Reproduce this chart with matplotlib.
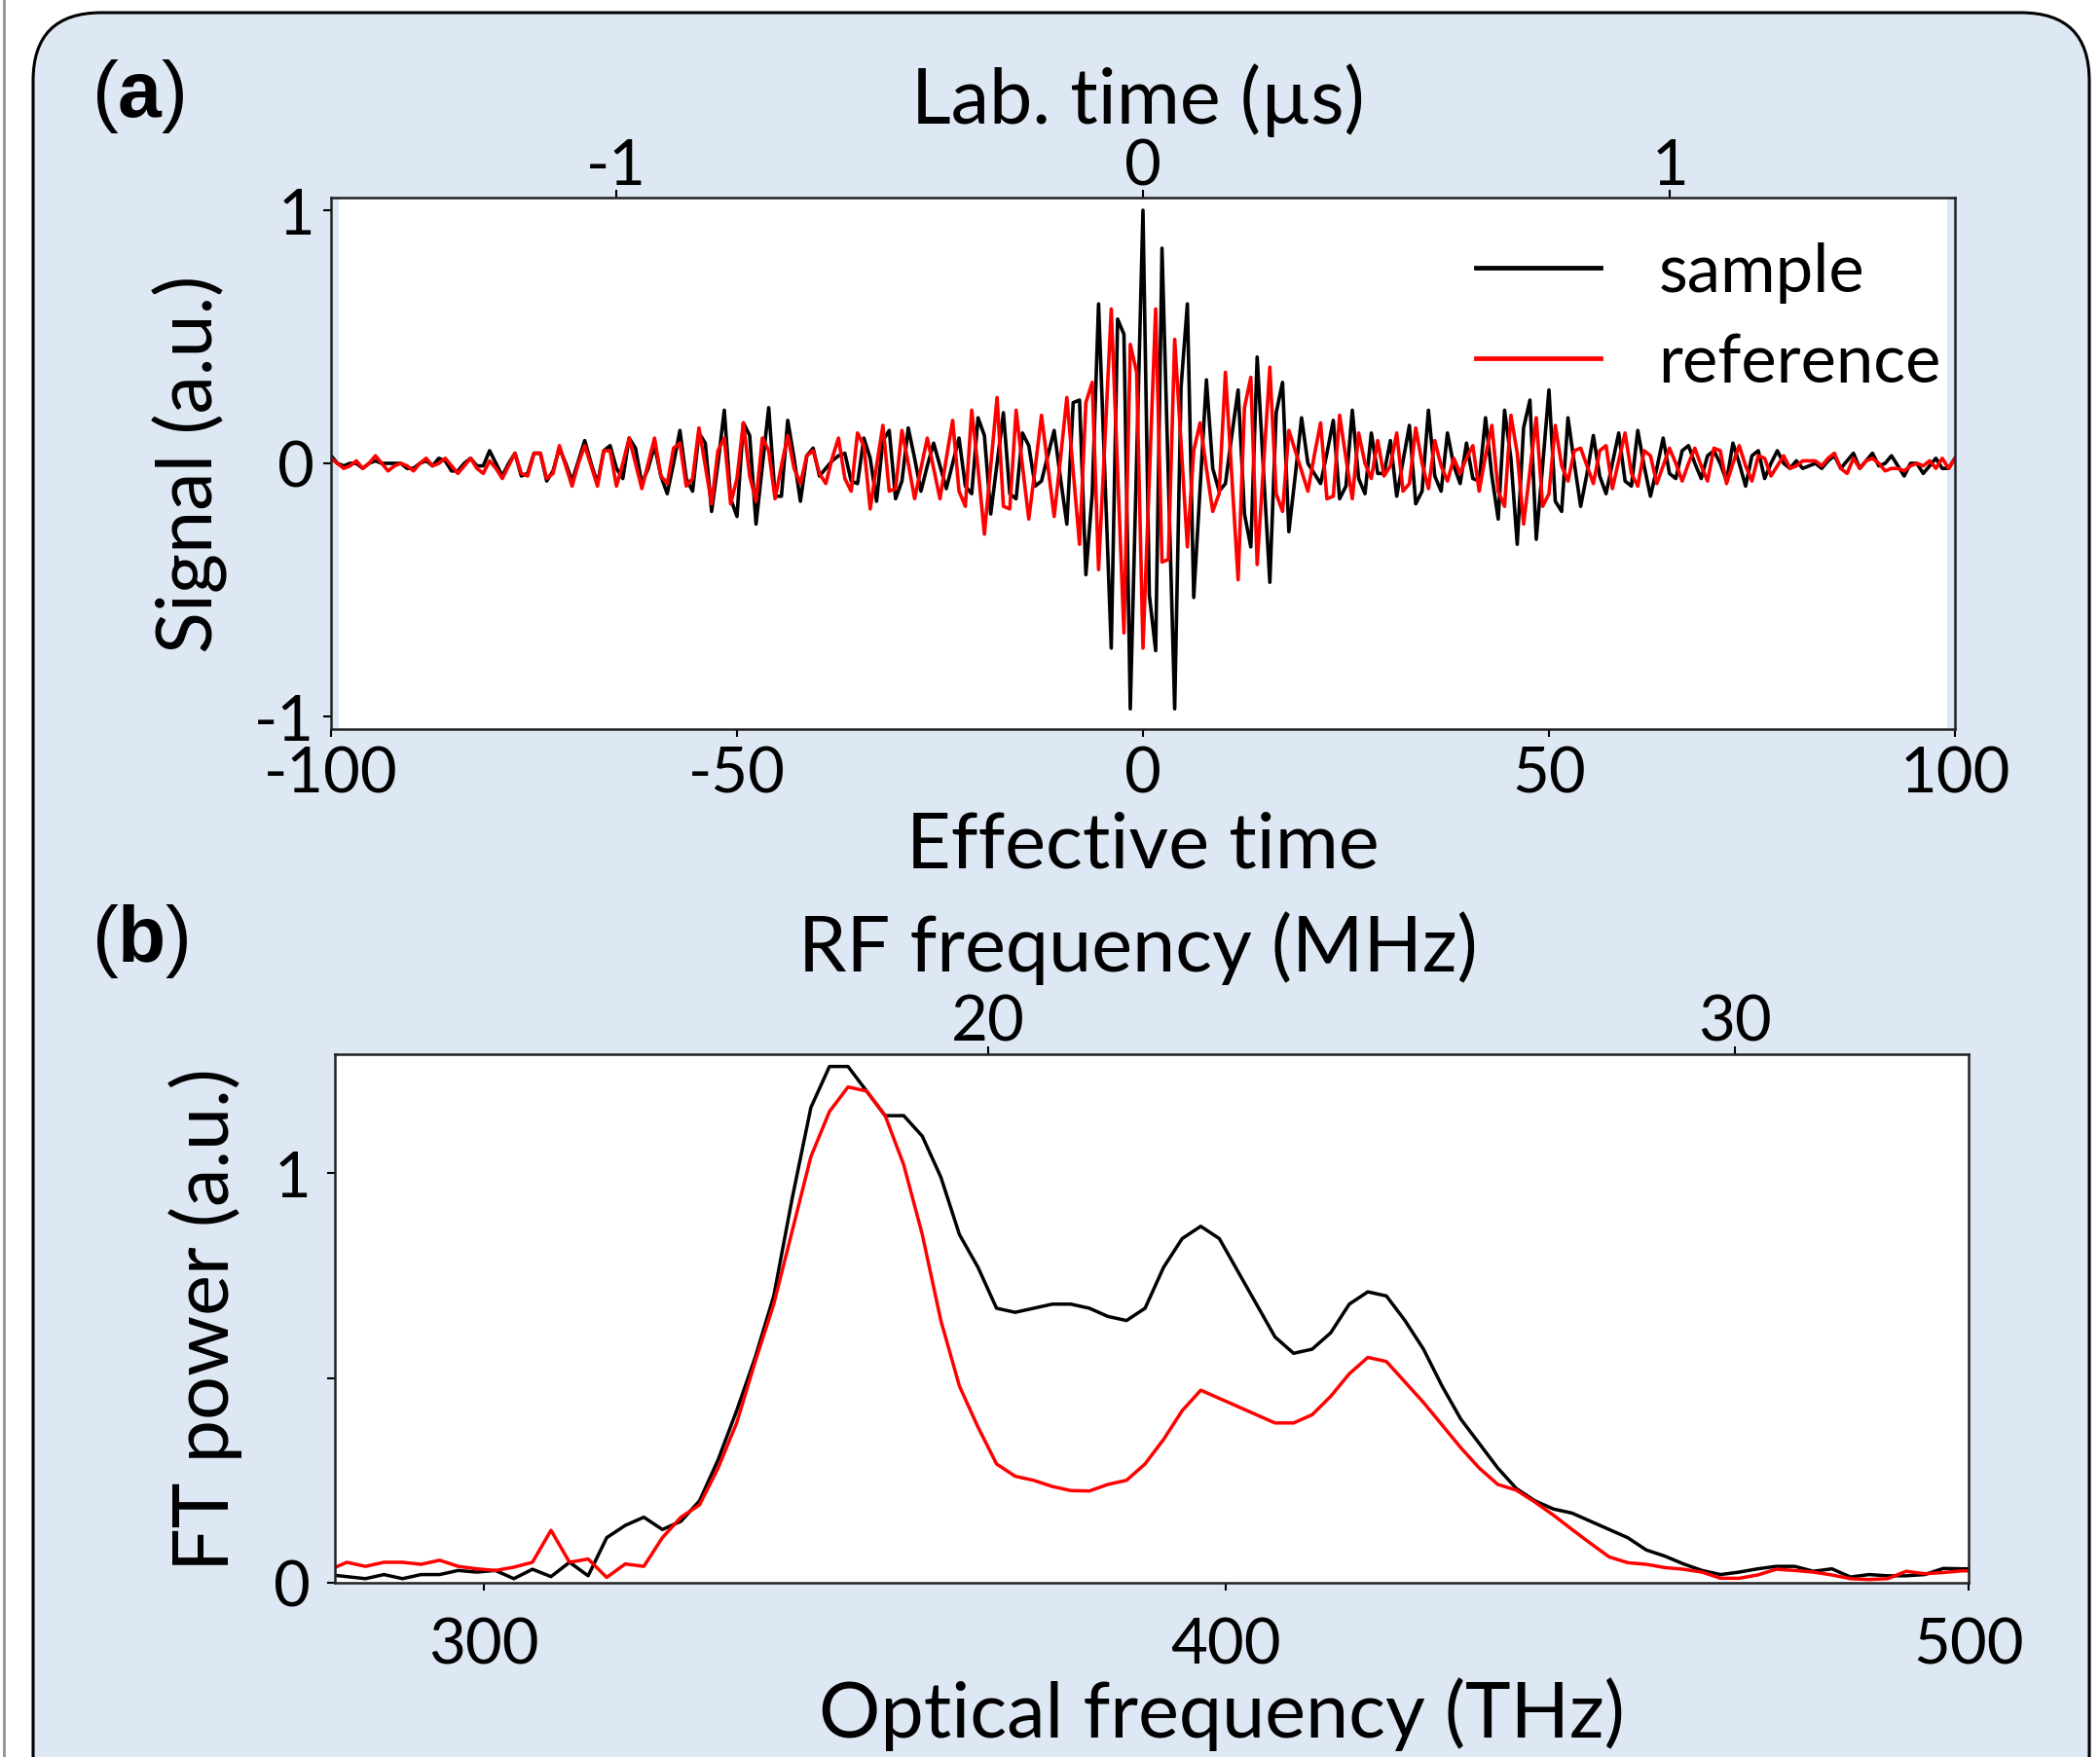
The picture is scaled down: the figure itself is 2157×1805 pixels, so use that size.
import numpy as np
import matplotlib
matplotlib.use("Agg")
import matplotlib.pyplot as plt
from matplotlib.patches import FancyBboxPatch
from matplotlib.transforms import IdentityTransform

plt.rcParams['font.family'] = ['Lato', 'DejaVu Sans']
plt.rcParams['axes.unicode_minus'] = False
plt.rcParams['mathtext.fontset'] = 'custom'
plt.rcParams['mathtext.rm'] = 'Liberation Sans'
plt.rcParams['mathtext.bf'] = 'Liberation Sans:bold'

# ---- panel (a): interferograms, 257 samples from -100 to 100 (effective time)
t_start, t_stop, n_t = -100, 100, 257
sample_sig = [
    0.03, 0.0, -0.01, 0.0, 0.0, -0.02, 0.0, 0.01, 0.0, 0.0,
    0.0, 0.0, -0.02, -0.02, 0.0, 0.01, -0.01, 0.02, 0.01, -0.03,
    -0.03, 0.0, 0.02, -0.01, -0.01, 0.05, 0.0, -0.05, 0.0, 0.04,
    -0.05, -0.04, 0.04, 0.04, -0.07, -0.03, 0.06, 0.0, -0.07, 0.01,
    0.09, 0.0, -0.08, 0.05, 0.07, -0.02, -0.06, 0.10, 0.06, -0.08,
    -0.02,
    0.07, -0.05, -0.12, 0.0, 0.13, -0.06, -0.11, 0.12, 0.08, -0.19,
    0.0, 0.21, -0.14, -0.21, 0.16, 0.11, -0.24, -0.01, 0.22, -0.13,
    -0.13, 0.17, 0.02, -0.15, 0.03, 0.06, -0.05, -0.02, 0.01, 0.03,
    0.04, -0.07, -0.08, 0.10, 0.02, -0.15, 0.09, 0.13, -0.14, -0.07,
    0.14, 0.02, -0.11, -0.01, 0.08, -0.01, -0.10, 0.0, 0.10, -0.09,
    -0.12,
    0.18, 0.11, -0.20, 0.0, 0.20, -0.12, -0.14, 0.12, 0.07, -0.09,
    -0.07, 0.03, 0.13, -0.06, -0.24, 0.24, 0.25, -0.44, -0.12, 0.63,
    -0.05, -0.73, 0.57, 0.51, -0.97, 0.01, 1.0, -0.52, -0.74, 0.85,
    -0.06, -0.97, 0.30, 0.63, -0.53, -0.10, 0.33, -0.02, -0.11, -0.08,
    0.11, 0.29, -0.20, -0.33, 0.42, -0.03, -0.47, 0.20, 0.32, -0.27,
    -0.05, 0.18,
    0.0, -0.04, -0.08, 0.04, 0.17, -0.14, -0.09, 0.21, -0.06, -0.12,
    0.12, -0.04, -0.04, 0.09, -0.13, 0.01, 0.15, -0.16, -0.11, 0.21,
    -0.05, -0.11, 0.12, -0.01, -0.08, 0.08, -0.06, -0.07, 0.18, -0.05,
    -0.22, 0.21, 0.02, -0.32, 0.14, 0.25, -0.30, -0.01, 0.29, -0.15,
    -0.19, 0.18, 0.0, -0.17, -0.04, 0.11, -0.05, -0.12, 0.0, 0.12,
    -0.07, -0.09, 0.13,
    -0.01, -0.13, -0.02, 0.10, -0.04, -0.06, 0.05, 0.07, 0.0, -0.06,
    0.03, 0.05, 0.0, -0.07, 0.08, 0.0, -0.09, 0.03, 0.05, -0.06,
    0.0, 0.05, 0.0, -0.02, 0.01, -0.02, -0.01, 0.0, -0.02, 0.01,
    0.03, -0.02, 0.01, 0.04, -0.02, 0.01, 0.04, -0.01, 0.0, 0.03,
    -0.01, -0.05, 0.0, 0.0, -0.04, -0.01, 0.02, -0.02, -0.02, 0.02,
]
reference_sig = [
    0.02, 0.0, -0.02, -0.01, 0.01, -0.02, 0.0, 0.03, 0.0, -0.03,
    -0.01, 0.0, -0.01, -0.03, 0.0, 0.02, -0.01, 0.0, 0.02, -0.01,
    -0.04, -0.01, 0.02, -0.02, -0.04, 0.01, -0.02, -0.06, -0.01, 0.04,
    -0.04, -0.05, 0.04, 0.04, -0.06, -0.04, 0.07, -0.01, -0.09, 0.0,
    0.07, -0.01, -0.09, 0.05, 0.05, -0.09, 0.0, 0.10, 0.0, -0.10,
    0.0,
    0.10, -0.05, -0.08, 0.06, 0.08, -0.09, -0.06, 0.14, -0.01, -0.16,
    0.05, 0.10, -0.16, -0.06, 0.16, -0.05, -0.15, 0.10, 0.05, -0.14,
    -0.01, 0.11, -0.02, -0.08, 0.03, 0.05, -0.04, -0.08, 0.02, 0.10,
    -0.06, -0.11, 0.12, 0.07, -0.18, -0.01, 0.15, -0.11, -0.10, 0.13,
    0.0, -0.14, -0.02, 0.10, -0.02, -0.14, 0.02, 0.17, -0.11, -0.17,
    0.21,
    -0.02, -0.28, -0.01, 0.26, -0.17, -0.18, 0.21, -0.01, -0.22, -0.02,
    0.19, -0.01, -0.21, 0.02, 0.26, -0.03, -0.32, 0.24, 0.32, -0.42,
    0.09, 0.61, -0.03, -0.67, 0.47, 0.36, -0.73, -0.06, 0.61, -0.39,
    -0.38, 0.49, 0.08, -0.33, 0.05, 0.16, -0.02, -0.19, -0.12, 0.36,
    -0.05, -0.46, 0.22, 0.34, -0.40, -0.01, 0.38, -0.12, -0.19, 0.13,
    0.05, -0.03,
    -0.11, 0.03, 0.16, -0.14, -0.13, 0.19, 0.02, -0.14, 0.12, 0.0,
    -0.06, 0.09, -0.05, -0.01, 0.12, -0.11, -0.08, 0.14, 0.0, -0.10,
    0.09, -0.01, -0.07, 0.02, -0.04, 0.02, 0.07, -0.11, 0.03, 0.15,
    -0.11, -0.17, 0.19, 0.04, -0.24, -0.03, 0.18, -0.17, -0.12, 0.15,
    -0.01, -0.07, 0.05, 0.06, -0.01, -0.08, 0.05, 0.07, -0.10, 0.01,
    0.12, -0.04, -0.09,
    0.05, 0.03, -0.08, -0.01, 0.06, 0.0, -0.07, 0.0, 0.06, -0.01,
    -0.07, 0.06, 0.05, -0.08, 0.0, 0.07, -0.01, -0.07, 0.03, 0.02,
    -0.05, -0.01, 0.03, -0.02, -0.01, 0.01, 0.01, 0.01, -0.01, 0.02,
    0.04, -0.02, -0.04, 0.02, -0.02, 0.01, 0.02, 0.0, -0.03, -0.02,
    -0.02, -0.03, -0.01, 0.0, -0.01, 0.01, -0.02, 0.02, -0.02, 0.02,
]
series_names = ['sample', 'reference']
lab_ticks = [-1, 0, 1]
eff_per_us = 64.9  # effective time units per microsecond

# ---- panel (b): FT power spectra, 2.5 THz grid starting at 279.1 THz
f_start, f_step = 279.1, 2.5
sample_ft = [
    0.02, 0.015, 0.01, 0.02, 0.01, 0.02, 0.02, 0.03, 0.026, 0.03,
    0.01, 0.033, 0.015, 0.05, 0.017, 0.11, 0.14, 0.16, 0.13, 0.15,
    0.20, 0.30, 0.42, 0.55, 0.70, 0.94, 1.16, 1.26, 1.26, 1.20,
    1.14, 1.14, 1.09, 0.99, 0.85, 0.77, 0.67, 0.66, 0.67, 0.68,
    0.68, 0.67, 0.65, 0.64, 0.67, 0.77, 0.84, 0.87, 0.84, 0.76,
    0.68, 0.60, 0.56, 0.57, 0.61, 0.68, 0.71, 0.70, 0.64, 0.57,
    0.48, 0.40, 0.34, 0.28, 0.23, 0.20, 0.18, 0.17, 0.15, 0.13,
    0.11, 0.08, 0.065, 0.046, 0.03, 0.02, 0.026, 0.034, 0.04, 0.04,
    0.028, 0.034, 0.014, 0.02, 0.017, 0.017, 0.02, 0.035, 0.034, 0.034,
]
reference_ft = [
    0.03, 0.05, 0.04, 0.05, 0.05, 0.045, 0.055, 0.04, 0.034, 0.03,
    0.038, 0.05, 0.128, 0.05, 0.058, 0.013, 0.046, 0.04, 0.11, 0.16,
    0.19, 0.28, 0.39, 0.54, 0.68, 0.86, 1.04, 1.15, 1.21, 1.20,
    1.14, 1.02, 0.85, 0.64, 0.48, 0.38, 0.29, 0.26, 0.25, 0.235,
    0.225, 0.224, 0.24, 0.25, 0.29, 0.35, 0.42, 0.47, 0.45, 0.43,
    0.41, 0.39, 0.39, 0.41, 0.455, 0.51, 0.55, 0.54, 0.49, 0.44,
    0.385, 0.33, 0.28, 0.24, 0.226, 0.197, 0.165, 0.13, 0.096, 0.063,
    0.049, 0.045, 0.037, 0.033, 0.026, 0.011, 0.011, 0.019, 0.033, 0.03,
    0.026, 0.019, 0.01, 0.008, 0.01, 0.028, 0.022, 0.025, 0.029, 0.029,
]
opt_ticks = [300, 400, 500]
rf_ticks = [20, 30]
rf_offset, rf_slope = 166.9, 10.053  # optical = offset + slope * RF

bg = '#dde8f4'
W, H = 2157, 1806

fig = plt.figure(figsize=(W / 100, H / 100), dpi=100, facecolor='white')
box = FancyBboxPatch((34, -200), 2112, 1992, boxstyle='round,pad=0,rounding_size=70',
                     transform=IdentityTransform(), facecolor=bg, edgecolor='black',
                     linewidth=2.2, zorder=-10)
fig.patches.append(box)
fig.add_artist(plt.Line2D([4, 4], [0, H], transform=IdentityTransform(), color='#909090', lw=2))

tick_fs = 47
label_fs = 57


def style_axes(ax):
    for sp in ax.spines.values():
        sp.set_linewidth(1.8)
        sp.set_color('#222222')
    ax.tick_params(labelsize=tick_fs, length=6, width=1.5)


# panel (a)
ax1 = fig.add_axes([340 / W, 1 - 750 / H, 1668 / W, 546 / H])
t_eff = np.linspace(t_start, t_stop, n_t)
ax1.axvspan(-100, -99, color=bg, lw=0, zorder=0)
ax1.axvspan(99, 100, color=bg, lw=0, zorder=0)
ax1.plot(t_eff, sample_sig, color='black', lw=2.6, label=series_names[0])
ax1.plot(t_eff, reference_sig, color='red', lw=2.6, label=series_names[1])
ax1.set_xlim(-100, 100)
ax1.set_ylim(-1.05, 1.05)
ax1.set_xticks([-100, -50, 0, 50, 100])
ax1.set_yticks([-1, 0, 1])
style_axes(ax1)
ax1.tick_params(axis='x', pad=6)
ax1.tick_params(axis='y', pad=6)
ax1.set_xlabel('Effective time', fontsize=label_fs, labelpad=6)
ax1.set_ylabel('Signal (a.u.)', fontsize=label_fs, labelpad=20)
top1 = ax1.secondary_xaxis('top', functions=(lambda x: x / eff_per_us, lambda x: x * eff_per_us))
top1.set_xticks(lab_ticks)
top1.tick_params(labelsize=tick_fs, length=6, width=1.5, pad=-4)
top1.set_xlabel('Lab. time (\u00b5s)', fontsize=label_fs, labelpad=11)
top1.xaxis.label.set_x(0.497)
leg = ax1.legend(loc='upper right', bbox_to_anchor=(1.006, 0.962), frameon=False, fontsize=49.5,
                 handlelength=1.86, handletextpad=0.87, labelspacing=0.44,
                 borderaxespad=0.0, borderpad=0.35)
for ln in leg.get_lines():
    ln.set_linewidth(3.4)

# panel (b)
ax2 = fig.add_axes([344 / W, 1 - 1627 / H, 1678 / W, 543 / H])
opt_freq = f_start + f_step * np.arange(len(sample_ft))
ax2.plot(opt_freq, sample_ft, color='black', lw=2.5)
ax2.plot(opt_freq, reference_ft, color='red', lw=2.5)
ax2.set_xlim(280, 500)
ax2.set_ylim(0, 1.29)
ax2.set_xticks(opt_ticks)
ax2.set_yticks([0, 0.5, 1])
ax2.set_yticklabels(['0', '', '1'])
style_axes(ax2)
ax2.tick_params(axis='x', pad=19)
ax2.tick_params(axis='y', pad=12)
ax2.set_xlabel('Optical frequency (THz)', fontsize=label_fs, labelpad=2)
ax2.xaxis.label.set_x(0.5426)
ax2.set_ylabel('FT power (a.u.)', fontsize=label_fs, labelpad=23)
top2 = ax2.secondary_xaxis('top', functions=(lambda f: (f - rf_offset) / rf_slope,
                                              lambda r: rf_offset + rf_slope * r))
top2.set_xticks(rf_ticks)
top2.tick_params(labelsize=tick_fs, length=6, width=1.5, pad=-3.5)
top2.set_xlabel('RF frequency (MHz)', fontsize=label_fs, labelpad=17)
top2.xaxis.label.set_x(0.4918)

fig.text(94 / W, 1 - 99 / H, r'($\mathbf{a}$)', fontsize=58, family='Liberation Sans',
         ha='left', va='center')
fig.text(94 / W, 1 - 967 / H, r'($\mathbf{b}$)', fontsize=58, family='Liberation Sans',
         ha='left', va='center')

fig.savefig('out.png', dpi=100, facecolor=fig.get_facecolor())
